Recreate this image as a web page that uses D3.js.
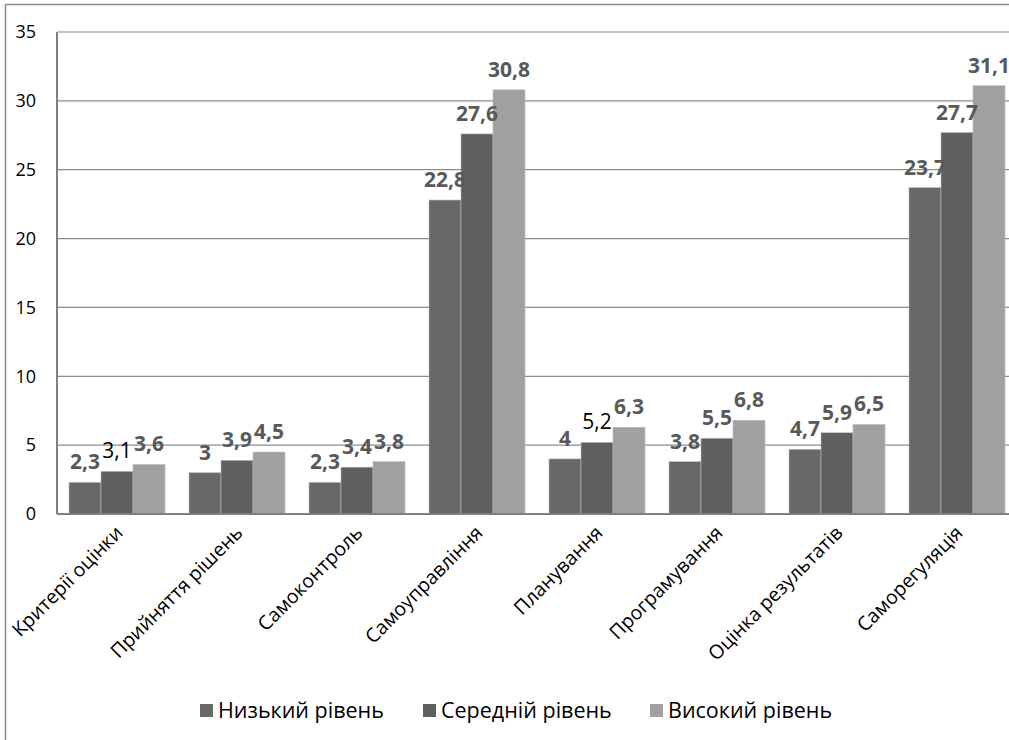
<!DOCTYPE html>
<html>
<head>
<meta charset="utf-8">
<script src="https://cdn.jsdelivr.net/npm/d3@7"></script>
<style>
  body { margin: 0; background: #fff; }
  svg { display: block; font-family: "Open Sans", "Noto Sans", sans-serif; }
</style>
</head>
<body>
<div id="chart"></div>
<script>
// categories and the three series
const categories = ['Критерії оцінки', 'Прийняття рішень', 'Самоконтроль', 'Самоуправління',
  'Планування', 'Програмування', 'Оцінка результатів', 'Саморегуляція']
const seriesNames = ['Низький рівень', 'Середній рівень', 'Високий рівень']
const lowLevel = [2.3, 3, 2.3, 22.8, 4, 3.8, 4.7, 23.7]
const midLevel = [3.1, 3.9, 3.4, 27.6, 5.2, 5.5, 5.9, 27.7]
const highLevel = [3.6, 4.5, 3.8, 30.8, 6.3, 6.8, 6.5, 31.1]
const yTicks = [0, 5, 10, 15, 20, 25, 30, 35]

const series = [lowLevel, midLevel, highLevel]
const colors = ['#686868', '#5f5f5f', '#a0a0a0']

const width = 1009, height = 740
// plot area runs past the right edge, like the cropped original
const plotLeft = 57, plotTop = 32, plotW = 960, plotBottom = 514

const svg = d3.select('#chart').append('svg')
  .attr('width', width).attr('height', height)

// outer chart border (only left and top show)
svg.append('rect').attr('x', 5.5).attr('y', 4.5)
  .attr('width', 1100).attr('height', 800)
  .attr('fill', 'none').attr('stroke', '#8c8c8c').attr('stroke-width', 1.5)

const x0 = d3.scaleBand().domain(categories).range([plotLeft, plotLeft + plotW]).paddingInner(0.2).paddingOuter(0.1)
const x1 = d3.scaleBand().domain(d3.range(series.length)).range([0, x0.bandwidth()])
const y = d3.scaleLinear().domain([0, 35]).range([plotBottom, plotTop])

// gridlines
svg.append('g').selectAll('line').data(yTicks.slice(1)).join('line')
  .attr('x1', plotLeft).attr('x2', width)
  .attr('y1', d => y(d)).attr('y2', d => y(d))
  .attr('stroke', '#8c8c8c').attr('stroke-width', 1.2)

// y axis labels
const yAxis = svg.append('g').attr('transform', `translate(${plotLeft},0)`)
  .call(d3.axisLeft(y).tickValues(yTicks).tickSize(0).tickPadding(21))
yAxis.select('.domain').remove()
yAxis.selectAll('text').attr('font-size', 18).attr('fill', '#000')
  .attr('font-family', '"Open Sans", sans-serif')

// bars
const groups = svg.append('g').selectAll('g').data(categories).join('g')
  .attr('transform', d => `translate(${x0(d)},0)`)

groups.selectAll('rect').data((d, i) => series.map((s, k) => ({ k, v: s[i] }))).join('rect')
  .attr('x', d => x1(d.k)).attr('width', x1.bandwidth())
  .attr('y', d => y(d.v)).attr('height', d => plotBottom - y(d.v))
  .attr('fill', d => colors[d.k])
  .attr('stroke', '#bdbdbd').attr('stroke-width', 0.6)

// value labels; two of them are plain black in the original
const plain = { '0-1': true, '4-1': true }
groups.selectAll('text').data((d, i) => series.map((s, k) => ({ i, k, v: s[i] }))).join('text')
  .attr('x', d => x1(d.k) + x1.bandwidth() / 2)
  .attr('y', d => y(d.v) - 13)
  .attr('text-anchor', 'middle')
  .attr('font-size', 21)
  .attr('font-weight', d => plain[d.i + '-' + d.k] ? 'normal' : 'bold')
  .attr('fill', d => plain[d.i + '-' + d.k] ? '#000' : '#595959')
  .text(d => String(d.v).replace('.', ','))

// axis lines
svg.append('line').attr('x1', plotLeft).attr('x2', plotLeft).attr('y1', plotTop).attr('y2', plotBottom)
  .attr('stroke', '#808080').attr('stroke-width', 2)
svg.append('line').attr('x1', plotLeft).attr('x2', width).attr('y1', plotBottom).attr('y2', plotBottom)
  .attr('stroke', '#808080').attr('stroke-width', 2)

// rotated category labels
svg.append('g').selectAll('text').data(categories).join('text')
  .attr('transform', d => `translate(${x0(d) + x0.bandwidth() / 2 + 7},${plotBottom + 20}) rotate(-45)`)
  .attr('text-anchor', 'end')
  .attr('font-size', 19.5)
  .attr('fill', '#000')
  .text(d => d)

// legend
const legendX = [200, 423, 650]
const legend = svg.append('g').selectAll('g').data(seriesNames).join('g')
  .attr('transform', (d, i) => `translate(${legendX[i]},704)`)
legend.append('rect').attr('width', 13).attr('height', 13).attr('fill', (d, i) => colors[i])
legend.append('text').attr('x', 18).attr('y', 14)
  .attr('font-size', 21.5).attr('fill', '#000').text(d => d)
</script>
</body>
</html>
